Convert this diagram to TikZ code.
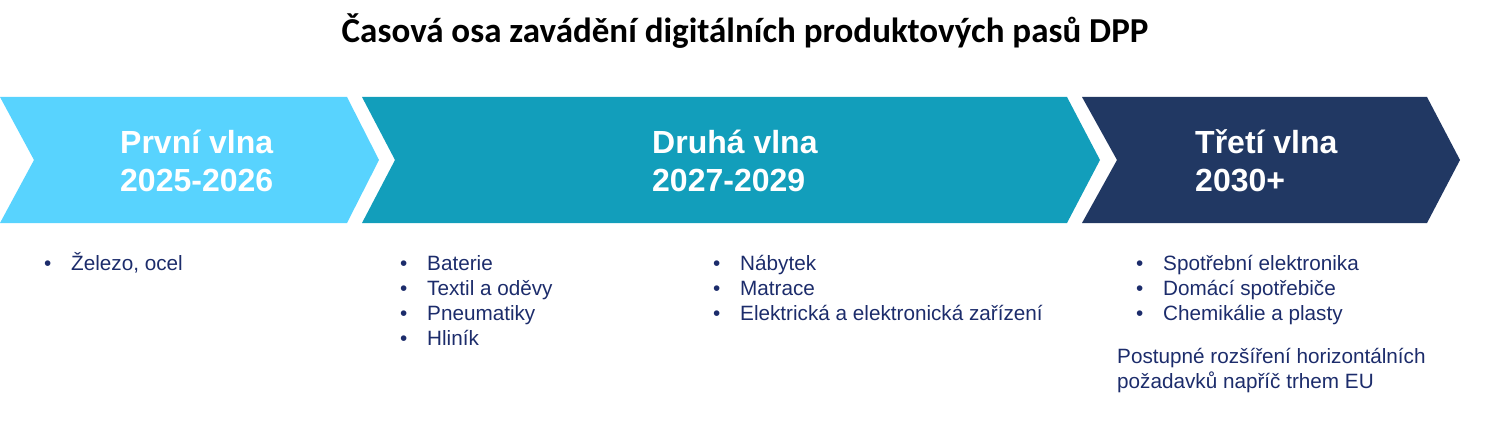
\documentclass[tikz,border=0pt]{standalone}
\usepackage{fontspec}
\setmainfont{Liberation Sans}
\newfontfamily\titlefont{Carlito}
\definecolor{waveone}{HTML}{58D3FE}
\definecolor{wavetwo}{HTML}{129EBB}
\definecolor{wavethree}{HTML}{213863}
\definecolor{itemtext}{HTML}{1C2C6B}
\tikzset{
  wavetitle/.style={anchor=base west,inner sep=0pt,align=left,text=white,
    font=\fontsize{32}{38}\selectfont\bfseries},
  itemlist/.style={anchor=base west,inner sep=0pt,align=left,text=itemtext,
    font=\fontsize{20.7}{25}\selectfont},
}
\newcommand{\itembullet}{\makebox[27pt][l]{\textbullet}}
\begin{document}
\begin{tikzpicture}[x=1pt,y=-1pt]
\useasboundingbox (0,0) rectangle (1500,433);
% title
\node [inner sep=0pt,anchor=base] (title) at (745,43)
  {\titlefont\fontsize{35}{40}\selectfont\bfseries Časová osa zavádění digitálních produktových pasů DPP};
% chevrons
\fill [waveone] (0,97) -- (347,97) -- (379,160) -- (347,223) -- (0,223) -- (34,160) -- cycle;
\fill [wavetwo] (362,97) -- (1067,97) -- (1100,160) -- (1067,223) -- (362,223) -- (395,160) -- cycle;
\fill [wavethree] (1082,97) -- (1427,97) -- (1460,160) -- (1427,223) -- (1082,223) -- (1117,160) -- cycle;
% wave names (anchored on the last line)
\node [wavetitle] (first) at (120,191) {První vlna\\2025-2026};
\node [wavetitle] (second) at (652,191) {Druhá vlna\\2027-2029};
\node [wavetitle] (third) at (1195,191) {Třetí vlna\\2030+};
% product groups (anchored on the last line)
\node [itemlist] (firstitems) at (44,270) {\itembullet Železo, ocel};
\node [itemlist] (seconditems) at (400,345)
  {\itembullet Baterie\\\itembullet Textil a oděvy\\\itembullet Pneumatiky\\\itembullet Hliník};
\node [itemlist] (seconditemsb) at (713,320)
  {\itembullet Nábytek\\\itembullet Matrace\\\itembullet Elektrická a elektronická zařízení};
\node [itemlist] (thirditems) at (1136,320)
  {\itembullet Spotřební elektronika\\\itembullet Domácí spotřebiče\\\itembullet Chemikálie a plasty};
\node [itemlist] (thirdnote) at (1117,388)
  {Postupné rozšíření horizontálních\\požadavků napříč trhem EU};
\end{tikzpicture}
\end{document}
